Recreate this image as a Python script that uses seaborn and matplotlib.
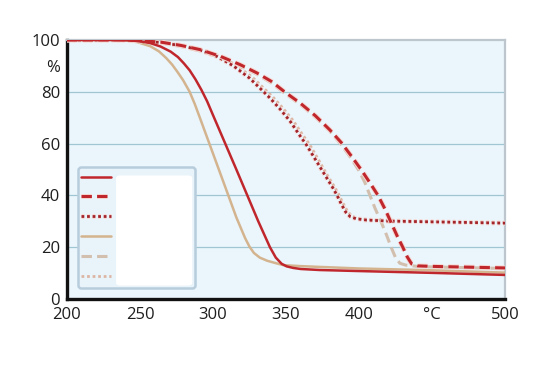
import matplotlib
matplotlib.use("Agg")
import matplotlib.pyplot as plt
import matplotlib.patheffects as pe
from matplotlib.patches import FancyBboxPatch
import seaborn as sns

# temperature (deg C) / remaining mass (%)
red_solid_t = [200, 235, 245, 250, 257, 264, 271, 276, 280, 284, 288, 292, 296, 300, 308, 316, 323.5, 331,
               339, 343, 347, 350.5, 355, 360, 373, 400, 450, 500]
red_solid_v = [100, 100, 99.8, 99.5, 98.8, 97.5, 95.5, 93.4, 91, 88.3, 84.8, 80.8, 76.3, 71, 60.5, 50, 40, 30,
               20, 16, 13.6, 12.6, 12, 11.6, 11.2, 10.8, 10.1, 9.3]

red_dash_t = [200, 240, 250, 264, 278, 291, 305, 318.5, 330, 340, 349, 360, 370, 380, 388, 395,
              402, 408, 413, 418, 422, 426, 430, 433, 436, 440, 450, 475, 500]
red_dash_v = [100, 100, 99.7, 99.2, 97.9, 96.3, 93.7, 90.5, 87.3, 84, 80, 75.5, 70.8, 65.3, 60.3, 55,
              49.5, 44.4, 40, 34.5, 29.5, 24.5, 20, 16.3, 13.6, 12.8, 12.6, 12.3, 12]

red_dot_t = [200, 240, 250, 265, 280, 292, 302.5, 314, 325, 332, 339, 346, 353, 359.6, 364, 370,
             376, 382, 385, 388, 391, 394, 398, 405, 420, 450, 500]
red_dot_v = [100, 100, 99.6, 99.0, 97.6, 95.9, 93.7, 90, 85.3, 81.5, 77.6, 73.3, 68.5, 63, 59.5, 54,
             48.5, 43, 40, 36.5, 33.5, 31.8, 31, 30.5, 30.1, 29.8, 29.3]

tan_solid_t = [200, 230, 240, 248, 257, 263, 268, 272, 275.5, 279.5, 284, 287.5, 291, 297.5, 304, 310.5,
               316, 319, 322, 325, 328, 332, 337, 342, 348, 360, 373, 400, 450, 500]
tan_solid_v = [100, 100, 99.8, 99.2, 97.6, 95.6, 93, 90.5, 87.8, 84.5, 80, 75.3, 70, 60, 50, 40,
               31.5, 27.5, 23.5, 20.2, 17.8, 16, 14.8, 14, 13.1, 12.7, 12.4, 11.8, 11.1, 10.2]

tan_dash_t = [200, 238, 250, 264, 278, 291, 305, 318.5, 330, 340, 349, 360, 370, 380, 388, 395,
              400, 404, 407.5, 411, 415, 419, 422, 425, 428, 432, 440, 450, 475, 500]
tan_dash_v = [100, 100, 99.5, 98.9, 97.5, 95.8, 93.2, 90, 86.8, 83.4, 79.5, 75, 70.3, 64.8, 59.5, 54,
              49.5, 45, 40, 35, 30, 24.5, 20, 16, 13.8, 13.1, 12.6, 12.4, 12.1, 11.8]

tan_dot_t = [200, 240, 250, 266, 282, 294, 304.5, 316, 327, 334, 341, 348, 355, 361.5, 366, 371.5,
             377, 383, 386, 389, 392, 395, 399, 405, 420, 450, 500]
tan_dot_v = [100, 100, 99.7, 99.1, 97.7, 96, 93.8, 90.2, 85.6, 81.8, 78, 73.6, 68.8, 63.3, 59.8, 54.5,
             49, 43.5, 40.5, 37, 34, 32, 31.2, 30.7, 30.3, 29.9, 29.5]

x_ticks = [200, 250, 300, 350, 400, 450, 500]
x_labels = ["200", "250", "300", "350", "400", "°C", "500"]
y_ticks = [0, 20, 40, 60, 80, 90, 100]
y_labels = ["0", "20", "40", "60", "80", "%", "100"]
grid_levels = [20, 40, 60, 80]

RED = "#c0272d"
RED_DARK = "#a3242b"
TAN = "#d3b48f"
TAN_LIGHT = "#d2bfae"
TAN_DOT = "#dcb6a4"
HALO = [pe.Stroke(linewidth=3.6, foreground="#f6d9d3"), pe.Normal()]

sns.set_style("white")
plt.rcParams["font.family"] = ["Open Sans", "DejaVu Sans"]

fig = plt.figure(figsize=(5.33, 3.79), dpi=100)
ax = fig.add_axes([0.1257, 0.211, 0.8218, 0.6835])
ax.set_facecolor("#ebf5fc")

for lvl in grid_levels:
    ax.axhline(lvl, color="#9fc6d2", lw=0.9, zorder=1)

series = [
    (tan_dot_t, tan_dot_v, TAN_DOT, (0, (1, 1)), 2.0, None),
    (tan_dash_t, tan_dash_v, TAN_LIGHT, (0, (3.4, 1.7)), 2.2, None),
    (tan_solid_t, tan_solid_v, TAN, "-", 1.8, None),
    (red_dot_t, red_dot_v, RED_DARK, (0, (1, 1)), 2.0, HALO),
    (red_dash_t, red_dash_v, RED, (0, (3.4, 1.7)), 2.2, HALO),
    (red_solid_t, red_solid_v, RED, "-", 1.8, None),
]
for t, v, c, ls, lw, fx in series:
    kw = {"path_effects": fx} if fx else {}
    sns.lineplot(x=t, y=v, ax=ax, color=c, linestyle=ls, lw=lw, zorder=3, **kw)

ax.set_xlim(200, 500)
ax.set_ylim(0, 100)
ax.set_xticks(x_ticks)
ax.set_xticklabels(x_labels)
ax.set_yticks(y_ticks)
ax.set_yticklabels(y_labels)
ax.tick_params(axis="x", direction="in", length=5, width=1, color="#b3bcc1",
               pad=6, labelsize=12, labelcolor="#1e1e1e")
ax.tick_params(axis="y", length=0, pad=5, labelsize=12, labelcolor="#1e1e1e")
ax.set_xlabel("")
ax.set_ylabel("")

for side in ["left", "bottom"]:
    ax.spines[side].set_color("#111111")
    ax.spines[side].set_linewidth(2.4)
for side in ["top", "right"]:
    ax.spines[side].set_color("#bcc6cc")
    ax.spines[side].set_linewidth(1.6)

# legend: line samples only, label area left blank (white)
lines = ax.get_lines()[len(grid_levels):]
order = [5, 4, 3, 2, 1, 0]
leg = ax.legend([lines[i] for i in order], [" "] * 6,
                loc="lower left", bbox_to_anchor=(0.025, 0.042, 0.267, 0.456),
                mode="expand", fontsize=10, labelspacing=0.35, handlelength=2.15,
                borderpad=0.25, borderaxespad=0, fancybox=True, framealpha=1,
                facecolor="#e9f3fa", edgecolor="#b7cddc")
leg.get_frame().set_linewidth(1.8)
leg.set_zorder(5)

ax.add_patch(FancyBboxPatch((0.112, 0.052), 0.174, 0.425, transform=ax.transAxes,
                            boxstyle="round,pad=0,rounding_size=0.01",
                            facecolor="white", edgecolor="none", zorder=6))

fig.savefig("out.png", dpi=100, facecolor="white")
